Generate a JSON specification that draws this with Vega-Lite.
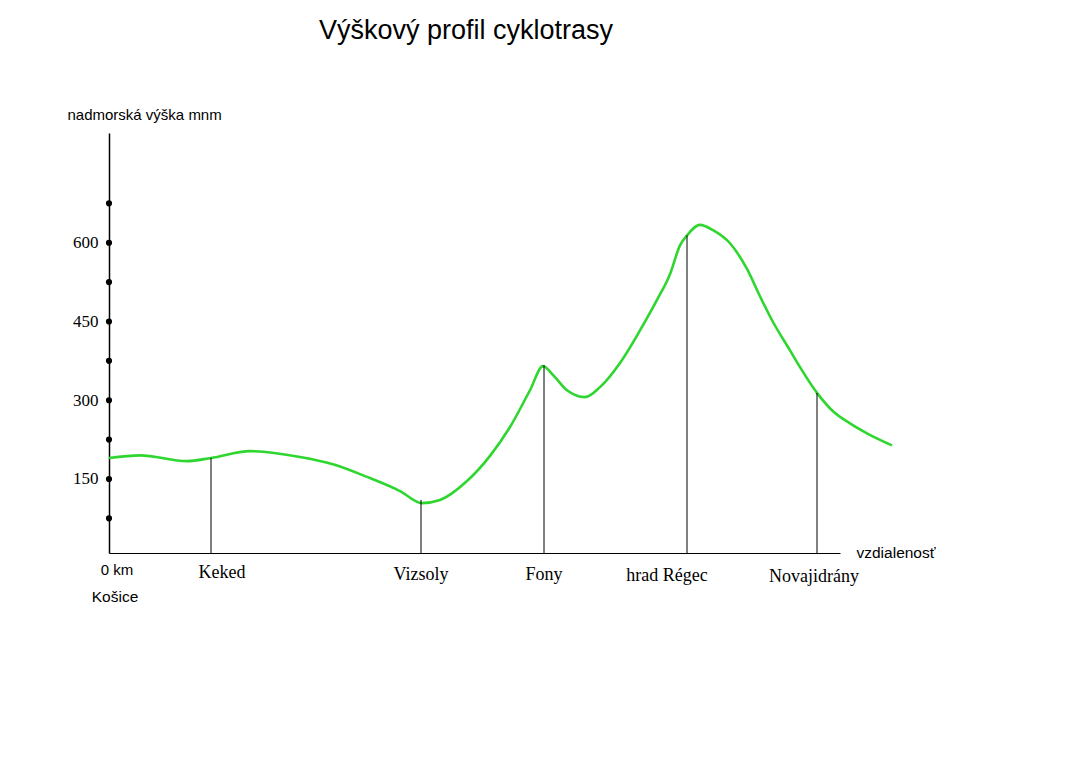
{
  "$schema": "https://vega.github.io/schema/vega-lite/v6.json",
  "autosize": "none",
  "width": 731,
  "height": 420,
  "padding": {"left": 109, "top": 133, "right": 229, "bottom": 213},
  "background": "white",
  "config": {"view": {"stroke": null}},
  "title": {
    "text": "Výškový profil cyklotrasy",
    "font": "Liberation Sans",
    "fontSize": 27,
    "fontWeight": "normal",
    "color": "black",
    "anchor": "start",
    "frame": "group",
    "dx": 210,
    "offset": 62
  },
  "datasets": {
    "profile": [
      {"km": 0.0, "elev": 190}, {"km": 3.1, "elev": 195}, {"km": 7.8, "elev": 184},
      {"km": 10.2, "elev": 190}, {"km": 14.1, "elev": 203}, {"km": 19.1, "elev": 192},
      {"km": 22.4, "elev": 178}, {"km": 25.8, "elev": 154}, {"km": 29.1, "elev": 127},
      {"km": 31.3, "elev": 104}, {"km": 33.1, "elev": 110}, {"km": 35.8, "elev": 146},
      {"km": 38.1, "elev": 194}, {"km": 40.1, "elev": 249}, {"km": 42.1, "elev": 319},
      {"km": 43.4, "elev": 365}, {"km": 44.4, "elev": 348}, {"km": 45.8, "elev": 319},
      {"km": 47.6, "elev": 306}, {"km": 49.1, "elev": 325}, {"km": 51.1, "elev": 371},
      {"km": 53.1, "elev": 433}, {"km": 54.8, "elev": 491}, {"km": 56.1, "elev": 540},
      {"km": 57.1, "elev": 595}, {"km": 57.8, "elev": 614}, {"km": 59.1, "elev": 634},
      {"km": 60.4, "elev": 624}, {"km": 62.1, "elev": 599}, {"km": 63.8, "elev": 550},
      {"km": 65.1, "elev": 498}, {"km": 66.4, "elev": 449}, {"km": 68.1, "elev": 395},
      {"km": 69.1, "elev": 363}, {"km": 70.8, "elev": 314}, {"km": 72.4, "elev": 279},
      {"km": 74.1, "elev": 256}, {"km": 75.8, "elev": 237}, {"km": 78.3, "elev": 214}
    ],
    "towns": [
      {"name": "Keked", "km": 10.2, "elev": 190, "shift": "right"},
      {"name": "Vizsoly", "km": 31.2, "elev": 110, "shift": "none"},
      {"name": "Fony", "km": 43.5, "elev": 367, "shift": "none"},
      {"name": "hrad Régec", "km": 57.8, "elev": 614, "shift": "left"},
      {"name": "Novajidrány", "km": 70.8, "elev": 314, "shift": "slight"}
    ],
    "marks": [
      {"h": 75}, {"h": 150}, {"h": 225}, {"h": 300}, {"h": 375},
      {"h": 450}, {"h": 525}, {"h": 600}, {"h": 675}
    ]
  },
  "layer": [
    {
      "data": {"name": "profile"},
      "mark": {"type": "line", "interpolate": "monotone", "color": "#2fd62f", "strokeWidth": 2.6},
      "encoding": {
        "x": {
          "field": "km", "type": "quantitative",
          "scale": {"domain": [0, 73.1], "nice": false, "zero": false},
          "axis": {
            "labels": false, "ticks": false, "grid": false,
            "domainColor": "black", "domainWidth": 1.2,
            "title": "vzdialenosť",
            "titleFont": "Liberation Sans", "titleFontSize": 15.5, "titleFontWeight": "normal",
            "titleColor": "black", "titleAlign": "left", "titleBaseline": "middle",
            "titleX": 747, "titleY": -1
          }
        },
        "y": {
          "field": "elev", "type": "quantitative",
          "scale": {"domain": [9, 809], "nice": false, "zero": false},
          "axis": {
            "values": [150, 300, 450, 600],
            "ticks": false, "grid": false,
            "domainColor": "black", "domainWidth": 1.5,
            "labelFont": "Liberation Serif", "labelFontSize": 17, "labelColor": "black",
            "labelPadding": 11,
            "title": "nadmorská výška mnm",
            "titleFont": "Liberation Sans", "titleFontSize": 15, "titleFontWeight": "normal",
            "titleColor": "black", "titleAngle": 0, "titleAlign": "left",
            "titleBaseline": "middle", "titleX": -42, "titleY": -19
          }
        }
      }
    },
    {
      "data": {"name": "towns"},
      "mark": {"type": "rule", "color": "black", "strokeWidth": 1},
      "encoding": {
        "x": {"field": "km", "type": "quantitative"},
        "y": {"field": "elev", "type": "quantitative"},
        "y2": {"datum": 9}
      }
    },
    {
      "data": {"name": "marks"},
      "mark": {"type": "point", "filled": true, "color": "black", "size": 38, "opacity": 1},
      "encoding": {
        "x": {"datum": 0, "type": "quantitative"},
        "y": {"field": "h", "type": "quantitative"}
      }
    },
    {
      "data": {"name": "towns"},
      "transform": [{"filter": "datum.shift == 'none'"}],
      "mark": {"type": "text", "font": "Liberation Serif", "fontSize": 18, "color": "black", "baseline": "middle", "dy": 22},
      "encoding": {
        "x": {"field": "km", "type": "quantitative"},
        "y": {"datum": 9, "type": "quantitative"},
        "text": {"field": "name"}
      }
    },
    {
      "data": {"name": "towns"},
      "transform": [{"filter": "datum.shift == 'slight'"}],
      "mark": {"type": "text", "font": "Liberation Serif", "fontSize": 18, "color": "black", "baseline": "middle", "dy": 24, "dx": -3},
      "encoding": {
        "x": {"field": "km", "type": "quantitative"},
        "y": {"datum": 9, "type": "quantitative"},
        "text": {"field": "name"}
      }
    },
    {
      "data": {"name": "towns"},
      "transform": [{"filter": "datum.shift == 'right'"}],
      "mark": {"type": "text", "font": "Liberation Serif", "fontSize": 18, "color": "black", "baseline": "middle", "dy": 20, "dx": 11},
      "encoding": {
        "x": {"field": "km", "type": "quantitative"},
        "y": {"datum": 9, "type": "quantitative"},
        "text": {"field": "name"}
      }
    },
    {
      "data": {"name": "towns"},
      "transform": [{"filter": "datum.shift == 'left'"}],
      "mark": {"type": "text", "font": "Liberation Serif", "fontSize": 18, "color": "black", "baseline": "middle", "dy": 23, "dx": -20},
      "encoding": {
        "x": {"field": "km", "type": "quantitative"},
        "y": {"datum": 9, "type": "quantitative"},
        "text": {"field": "name"}
      }
    },
    {
      "data": {"values": [{"t": "0 km"}]},
      "mark": {"type": "text", "font": "Liberation Sans", "fontSize": 15, "color": "black", "baseline": "middle", "dy": 17, "dx": 8},
      "encoding": {
        "x": {"datum": 0, "type": "quantitative"},
        "y": {"datum": 9, "type": "quantitative"},
        "text": {"field": "t"}
      }
    },
    {
      "data": {"values": [{"t": "Košice"}]},
      "mark": {"type": "text", "font": "Liberation Sans", "fontSize": 15.5, "color": "black", "baseline": "middle", "dy": 44, "dx": 6},
      "encoding": {
        "x": {"datum": 0, "type": "quantitative"},
        "y": {"datum": 9, "type": "quantitative"},
        "text": {"field": "t"}
      }
    }
  ]
}
